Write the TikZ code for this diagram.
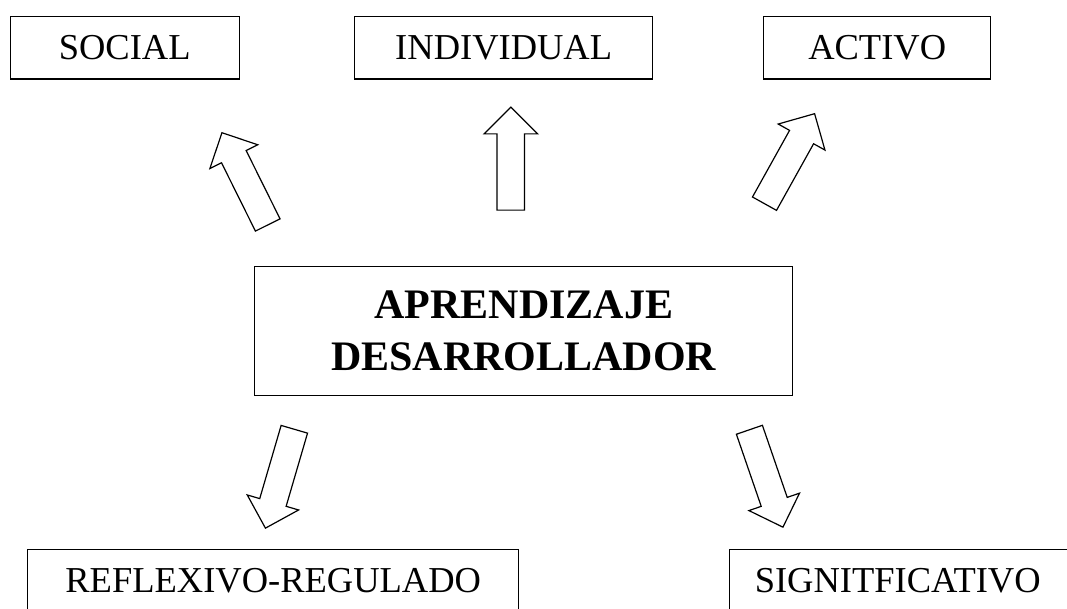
\documentclass[tikz,border=0pt]{standalone}
\usepackage{fontspec}
\setmainfont{Liberation Serif}
\usetikzlibrary{shapes.arrows}

\tikzset{
	caja/.style={draw, line width=1.4pt, minimum width=#1, minimum height=62.6pt,
		inner sep=0pt, anchor=north west, font=\fontsize{36.5}{44}\selectfont},
	flecha/.style={draw, line width=1.2pt, single arrow, single arrow head extend=13pt,
		minimum height=103pt, inner xsep=2pt, inner ysep=13.15pt, anchor=tail},
}

\begin{document}
\begin{tikzpicture}[x=1pt,y=-1pt]
	\useasboundingbox (0,0) rectangle (1067,608);
	\clip (0,0) rectangle (1067,608);

	% cajas de arriba
	\node[caja=229pt] (social) at (9.5,15.7) {SOCIAL};
	\node[caja=298pt] (individual) at (354,15.7) {INDIVIDUAL};
	\node[caja=227pt] (activo) at (763,15.7) {ACTIVO};

	% caja central
	\node[draw, line width=1.4pt, minimum width=538pt, minimum height=129pt, inner sep=0pt,
		anchor=north west, align=center, font=\bfseries\fontsize{42}{52}\selectfont]
		(aprendizaje) at (254,266) {APRENDIZAJE\\DESARROLLADOR};

	% cajas de abajo
	\node[caja=491pt] (reflexivo) at (27,549) {REFLEXIVO-REGULADO};
	\node[caja=345pt] (significativo) at (729,549) {\hspace*{-9pt}SIGNITFICATIVO};

	% flechas
	\node[flecha, rotate=116.4] (fl-social) at (268,225.5) {};
	\node[flecha, rotate=90] (fl-individual) at (510.8,210.7) {};
	\node[flecha, rotate=60.9] (fl-activo) at (764.2,204.2) {};
	\node[flecha, rotate=-106.3] (fl-reflexivo) at (294.5,428.7) {};
	\node[flecha, rotate=-71] (fl-significativo) at (749.2,429.2) {};

\end{tikzpicture}
\end{document}
